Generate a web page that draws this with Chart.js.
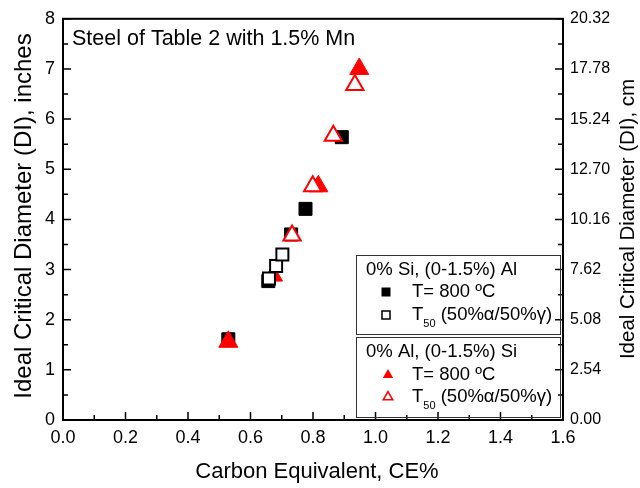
<!DOCTYPE html>
<html>
<head>
<meta charset="utf-8">
<script src="https://cdn.jsdelivr.net/npm/chart.js@4/dist/chart.umd.min.js"></script>
<style>
  body { margin: 0; background: #ffffff; }
  #wrap { width: 640px; height: 488px; position: relative; }
</style>
</head>
<body>
<div id="wrap"><canvas id="ceChart"></canvas></div>
<script>
// Carbon equivalent (x) and ideal critical diameter in inches (y)
const ceFilledSq = [0.529, 0.657, 0.730, 0.776, 0.892];
const diFilledSq = [1.61, 2.77, 3.70, 4.21, 5.64];
const ceOpenSq = [0.659, 0.682, 0.702];
const diOpenSq = [2.82, 3.07, 3.30];
const ceFilledTri = [0.529, 0.672, 0.817, 0.948];
const diFilledTri = [1.56, 2.88, 4.66, 7.00];
const ceOpenTri = [0.733, 0.799, 0.865, 0.934];
const diOpenTri = [3.68, 4.66, 5.67, 6.68];

// tick labels
const xTicks = ['0.0', '0.2', '0.4', '0.6', '0.8', '1.0', '1.2', '1.4', '1.6'];
const yTicks = ['0', '1', '2', '3', '4', '5', '6', '7', '8'];
const cmTicks = ['0.00', '2.54', '5.08', '7.62', '10.16', '12.70', '15.24', '17.78', '20.32'];

const FONT = '"Liberation Sans", Arial, sans-serif';

function pts(xs, ys) {
    return xs.map((x, i) => ({ x: x, y: ys[i] }));
}

function setTicks(list) {
    return function (scale) {
        scale.ticks = list.map(v => ({ value: parseFloat(v) }));
    };
}

function vText(ctx, text, x, y, size) {
    ctx.save();
    ctx.font = size + 'px ' + FONT;
    ctx.textAlign = 'center';
    ctx.translate(x, y);
    ctx.rotate(-Math.PI / 2);
    ctx.fillText(text, 0, 0);
    ctx.restore();
}

// frame, inward ticks, note, legend boxes and axis titles
const extras = {
    id: 'extras',
    afterDraw(chart) {
        const ctx = chart.ctx;
        const a = chart.chartArea;
        const sx = chart.scales.x, sy = chart.scales.y, s2 = chart.scales.y2;
        ctx.save();
        ctx.strokeStyle = '#000';
        ctx.lineWidth = 2;
        ctx.strokeRect(a.left, a.top, a.right - a.left, a.bottom - a.top);

        ctx.lineWidth = 1.5;
        ctx.beginPath();
        for (let i = 0; i <= 16; i++) {
            const px = sx.getPixelForValue(i * 0.1);
            const len = i % 2 === 0 ? 8 : 5;
            ctx.moveTo(px, a.bottom);
            ctx.lineTo(px, a.bottom - len);
        }
        for (let i = 0; i <= 16; i++) {
            const py = sy.getPixelForValue(i * 0.5);
            const len = i % 2 === 0 ? 8 : 5;
            ctx.moveTo(a.left, py);
            ctx.lineTo(a.left + len, py);
        }
        for (let i = 0; i <= 16; i++) {
            const py = s2.getPixelForValue(i * 1.27);
            const len = i % 2 === 0 ? 8 : 5;
            ctx.moveTo(a.right, py);
            ctx.lineTo(a.right - len, py);
        }
        ctx.stroke();

        ctx.fillStyle = '#000';
        ctx.textBaseline = 'middle';
        ctx.textAlign = 'left';
        ctx.font = '21.5px ' + FONT;
        ctx.fillText('Steel of Table 2 with 1.5% Mn', 72, 39);

        // legend boxes
        ctx.strokeStyle = '#333';
        ctx.lineWidth = 1;
        ctx.strokeRect(356.5, 255.5, 204, 79);
        ctx.strokeRect(356.5, 337.5, 204, 80);

        ctx.font = '18.5px ' + FONT;
        ctx.fillText('0% Si, (0-1.5%) Al', 366, 270);
        ctx.fillText('0% Al, (0-1.5%) Si', 366, 352);

        ctx.fillStyle = '#000';
        ctx.fillRect(381.5, 287.5, 9, 9);
        ctx.fillText('T= 800 ºC', 412, 292);
        ctx.lineWidth = 1.5;
        ctx.strokeStyle = '#000';
        ctx.strokeRect(382, 311, 8, 8);
        drawT50(ctx, 412, 315);

        ctx.fillStyle = '#ff0000';
        tri(ctx, 388, 375, 6);
        ctx.fill();
        ctx.fillStyle = '#000';
        ctx.font = '18.5px ' + FONT;
        ctx.fillText('T= 800 ºC', 412, 375);
        ctx.strokeStyle = '#ff0000';
        ctx.lineWidth = 1.5;
        tri(ctx, 388, 397, 5.5);
        ctx.stroke();
        drawT50(ctx, 412, 397);

        // axis titles
        ctx.fillStyle = '#000';
        ctx.font = '22px ' + FONT;
        ctx.textAlign = 'center';
        ctx.fillText('Carbon Equivalent, CE%', 317, 472);
        vText(ctx, 'Ideal Critical Diameter (DI), inches', 24, 216, 24);
        vText(ctx, 'Ideal Critical Diameter (DI), cm', 628, 219, 20.5);
        ctx.restore();
    }
};

function tri(ctx, x, y, r) {
    ctx.beginPath();
    ctx.moveTo(x, y - r);
    ctx.lineTo(x + r * 0.866, y + r / 2);
    ctx.lineTo(x - r * 0.866, y + r / 2);
    ctx.closePath();
}

function drawT50(ctx, x, y) {
    ctx.fillStyle = '#000';
    ctx.font = '18.5px ' + FONT;
    ctx.fillText('T', x, y);
    const w = ctx.measureText('T').width;
    ctx.font = '11px ' + FONT;
    ctx.fillText('50', x + w, y + 9);
    const w2 = ctx.measureText('50').width;
    ctx.font = '18.5px ' + FONT;
    ctx.fillText(' (50%α/50%γ)', x + w + w2, y);
}

document.addEventListener('DOMContentLoaded', function () {
    const ctx = document.getElementById('ceChart').getContext('2d');
    new Chart(ctx, {
        type: 'scatter',
        data: {
            datasets: [
                {
                    label: 'T50, 0% Al',
                    data: pts(ceOpenTri, diOpenTri),
                    pointStyle: 'triangle',
                    pointRadius: 10,
                    backgroundColor: '#ffffff',
                    borderColor: '#ff0000',
                    borderWidth: 2,
                    order: 1
                },
                {
                    label: 'T50, 0% Si',
                    data: pts(ceOpenSq, diOpenSq),
                    pointStyle: 'rect',
                    pointRadius: 8.5,
                    backgroundColor: '#ffffff',
                    borderColor: '#000000',
                    borderWidth: 2,
                    order: 2
                },
                {
                    label: 'T=800, 0% Al',
                    data: pts(ceFilledTri, diFilledTri),
                    pointStyle: 'triangle',
                    pointRadius: 11,
                    backgroundColor: '#ff0000',
                    borderColor: '#ff0000',
                    borderWidth: 1,
                    order: 3
                },
                {
                    label: 'T=800, 0% Si',
                    data: pts(ceFilledSq, diFilledSq),
                    pointStyle: 'rect',
                    pointRadius: 9.2,
                    backgroundColor: '#000000',
                    borderColor: '#000000',
                    borderWidth: 1,
                    order: 4
                }
            ]
        },
        options: {
            responsive: true,
            maintainAspectRatio: false,
            animation: false,
            layout: { padding: { top: 18, left: 0, right: 0, bottom: 0 } },
            plugins: {
                legend: { display: false },
                tooltip: { enabled: false }
            },
            scales: {
                x: {
                    type: 'linear',
                    min: 0,
                    max: 1.6,
                    afterBuildTicks: setTicks(xTicks),
                    afterFit: s => { s.height = 68; },
                    grid: { display: false, drawTicks: false },
                    border: { display: false },
                    ticks: {
                        color: '#000',
                        padding: 7,
                        font: { family: FONT, size: 18 },
                        callback: v => v.toFixed(1)
                    }
                },
                y: {
                    type: 'linear',
                    position: 'left',
                    min: 0,
                    max: 8,
                    afterBuildTicks: setTicks(yTicks),
                    afterFit: s => { s.width = 63; },
                    grid: { display: false, drawTicks: false },
                    border: { display: false },
                    ticks: {
                        color: '#000',
                        padding: 8,
                        font: { family: FONT, size: 18 },
                        callback: v => String(v)
                    }
                },
                y2: {
                    type: 'linear',
                    position: 'right',
                    min: 0,
                    max: 20.32,
                    afterBuildTicks: setTicks(cmTicks),
                    afterFit: s => { s.width = 77; },
                    grid: { display: false, drawTicks: false },
                    border: { display: false },
                    ticks: {
                        color: '#000',
                        padding: 7,
                        font: { family: FONT, size: 16 },
                        callback: v => v.toFixed(2)
                    }
                }
            }
        },
        plugins: [extras]
    });
});
</script>
</body>
</html>
